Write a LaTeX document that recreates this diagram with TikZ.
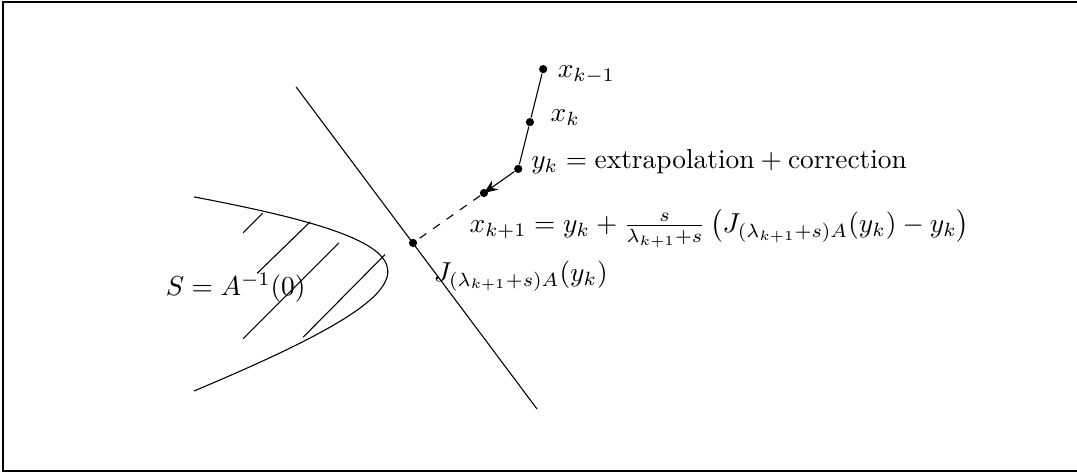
\documentclass[tikz,border=0pt]{standalone}
\usepackage{tikz}
\usetikzlibrary{arrows.meta,positioning,calc}

\begin{document}
\begin{tikzpicture}[>=Stealth,font=\normalsize]
\tikzstyle{pt}=[circle,fill,inner sep=0pt,minimum size=3pt]
\tikzstyle{lbl}=[inner sep=0pt,anchor=base west]
\useasboundingbox (0,0) rectangle (13.82,6.107);
\draw[line width=0.6pt] (13.82,6.08) -- (0.04,6.08) -- (0.04,0.064) -- (13.82,0.064);
% the set S and its hatching
\draw (2.49,3.58) .. controls (5.76,2.96) and (5.85,2.50) .. (2.49,1.09);
\draw (3.12,3.12) -- (3.37,3.37);
\draw (3.30,2.60) -- (3.98,3.26);
\draw (3.12,1.76) -- (4.35,2.99);
\draw (3.89,1.78) -- (4.94,2.84);
\node[lbl] (S) at (2.12,2.32) {$S=A^{-1}(0)$};
% the hyperplane
\coordinate (h1) at (3.80,4.99);
\coordinate (h2) at (6.89,0.86);
\draw (h1) -- (h2);
% the iterates
\node[pt] (xkm) at (6.97,5.22) {};
\node[pt] (xk) at (6.80,4.54) {};
\node[pt] (yk) at (6.65,3.94) {};
\node[pt] (xkp) at (6.21,3.63) {};
\node[pt] (J) at (5.30,2.99) {};
\draw (xkm) -- (xk) -- (yk);
\draw[-{Stealth[length=5pt,width=4pt]}] (yk) -- (xkp.center);
\draw[dashed] (xkp) -- (J);
\node[lbl] at (7.15,5.11) {$x_{k-1}$};
\node[lbl] at (7.06,4.55) {$x_k$};
\node[lbl] at (6.81,3.94) {$y_k=\mbox{extrapolation}+\mbox{correction}$};
\node[lbl] at (6.02,3.12) {$x_{k+1}=y_k+\frac{s}{\lambda_{k+1}+s}\left(J_{(\lambda_{k+1}+s)A}(y_k)-y_k\right)$};
\node[lbl] at (5.56,2.50) {$J_{(\lambda_{k+1}+s)A}(y_k)$};
\end{tikzpicture}
\end{document}
